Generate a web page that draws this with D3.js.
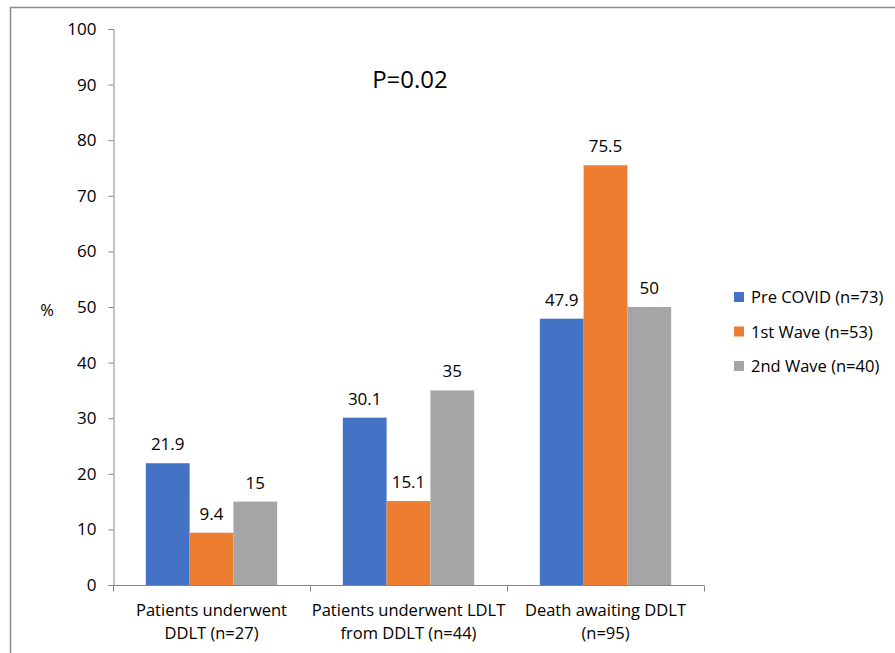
<!DOCTYPE html>
<html>
<head>
<meta charset="utf-8">
<script src="https://cdn.jsdelivr.net/npm/d3@7"></script>
<style>
  html, body { margin: 0; padding: 0; background: #fff; }
  svg { display: block; font-family: "Open Sans", "Noto Sans", sans-serif; }
</style>
</head>
<body>
<svg id="chart" width="895" height="653"></svg>
<script>
// Outcome categories (two-line labels)
const categories = [
  ["Patients underwent", "DDLT (n=27)"],
  ["Patients underwent LDLT", "from DDLT (n=44)"],
  ["Death awaiting DDLT", "(n=95)"]
];
const seriesNames = ["Pre COVID (n=73)", "1st Wave (n=53)", "2nd Wave (n=40)"];
const seriesColors = ["#4472C4", "#ED7D31", "#A5A5A5"];
// Percentages per series, one value per category
const preCovid = [21.9, 30.1, 47.9];
const firstWave = [9.4, 15.1, 75.5];
const secondWave = [15, 35, 50];
const yTicks = [0, 10, 20, 30, 40, 50, 60, 70, 80, 90, 100];

const seriesValues = [preCovid, firstWave, secondWave];

const svg = d3.select("#chart");

// outer frame (top and left edges)
svg.append("path")
  .attr("d", "M10.5,653 V7.5 H895")
  .attr("fill", "none")
  .attr("stroke", "#8c8c8c")
  .attr("stroke-width", 1.5);

const margin = { left: 113, right: 704, top: 29, bottom: 585 };

const x0 = d3.scaleBand()
  .domain(d3.range(categories.length))
  .range([margin.left, margin.right])
  .paddingInner(0)
  .paddingOuter(0);

const x1 = d3.scaleBand()
  .domain(d3.range(seriesNames.length))
  .range([0, x0.bandwidth()])
  .paddingInner(0)
  .paddingOuter(0.75);

const y = d3.scaleLinear().domain([0, 100]).range([margin.bottom, margin.top]);

const axisColor = "#868686";
const numSize = "17px";
const textSize = "16.5px";

// y axis
const yAxis = svg.append("g")
  .attr("transform", `translate(${margin.left + 0.5},0)`)
  .call(d3.axisLeft(y).tickValues(yTicks).tickSize(5).tickPadding(12).tickFormat(d3.format("d")));
yAxis.select(".domain").attr("stroke", axisColor);
yAxis.selectAll(".tick line").attr("stroke", axisColor);
yAxis.selectAll(".tick text")
  .attr("fill", "#000")
  .style("font-size", numSize)
  .style("font-family", "'Open Sans', sans-serif");

// x axis with category boundary ticks
const xg = svg.append("g").attr("transform", `translate(0,${margin.bottom + 0.5})`);
xg.append("line")
  .attr("x1", margin.left).attr("x2", margin.right)
  .attr("stroke", axisColor);
const bounds = d3.range(categories.length + 1).map(i =>
  i < categories.length ? x0(i) : x0(i - 1) + x0.bandwidth());
xg.selectAll("line.bt")
  .data(bounds)
  .join("line")
  .attr("class", "bt")
  .attr("x1", d => Math.round(d) + 0.5).attr("x2", d => Math.round(d) + 0.5)
  .attr("y1", 0).attr("y2", 6)
  .attr("stroke", axisColor);

// category labels
const catG = svg.append("g");
categories.forEach((lines, i) => {
  const t = catG.append("text")
    .attr("x", x0(i) + x0.bandwidth() / 2)
    .attr("y", 616)
    .attr("text-anchor", "middle")
    .style("font-size", textSize)
    .attr("fill", "#000");
  lines.forEach((ln, j) => {
    t.append("tspan")
      .attr("x", x0(i) + x0.bandwidth() / 2)
      .attr("dy", j === 0 ? 0 : 23)
      .text(ln);
  });
});

// bars
const barData = [];
seriesValues.forEach((vals, s) => {
  vals.forEach((v, c) => barData.push({ s, c, v }));
});

svg.append("g").selectAll("rect")
  .data(barData)
  .join("rect")
  .attr("x", d => x0(d.c) + x1(d.s))
  .attr("y", d => y(d.v))
  .attr("width", x1.bandwidth())
  .attr("height", d => y(0) - y(d.v))
  .attr("fill", d => seriesColors[d.s]);

// value labels
svg.append("g").selectAll("text")
  .data(barData)
  .join("text")
  .attr("x", d => x0(d.c) + x1(d.s) + x1.bandwidth() / 2)
  .attr("y", d => y(d.v) - 13)
  .attr("text-anchor", "middle")
  .style("font-size", numSize)
  .attr("fill", "#000")
  .text(d => d.v);

// y axis title
svg.append("text")
  .attr("x", 47).attr("y", 316)
  .attr("text-anchor", "middle")
  .style("font-size", textSize)
  .text("%");

// p-value annotation
svg.append("text")
  .attr("x", 410).attr("y", 88)
  .attr("text-anchor", "middle")
  .style("font-size", "24px")
  .text("P=0.02");

// legend
const legend = svg.append("g");
seriesNames.forEach((name, i) => {
  const cy = 297 + i * 34.5;
  legend.append("rect")
    .attr("x", 734).attr("y", cy - 5)
    .attr("width", 10).attr("height", 10)
    .attr("fill", seriesColors[i]);
  legend.append("text")
    .attr("x", 751).attr("y", cy + 6)
    .style("font-size", textSize)
    .text(name);
});
</script>
</body>
</html>
